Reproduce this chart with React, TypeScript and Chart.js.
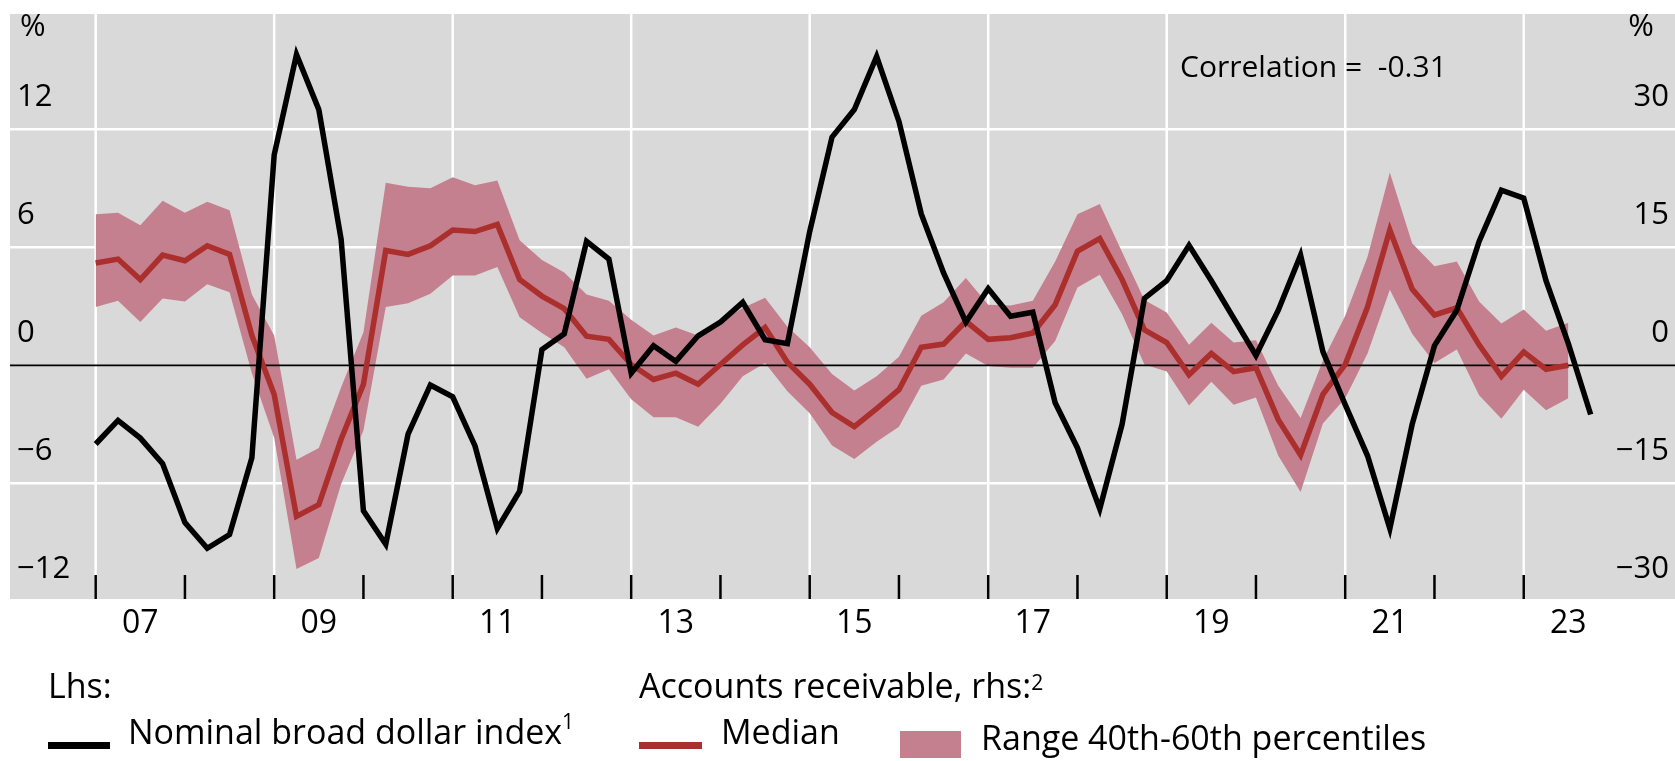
import { useEffect, useRef } from "react";
import { Chart, registerables } from "chart.js";

Chart.register(...registerables);

// Quarterly observations, 2007Q1 onwards
const quarters = [
  "2007Q1", "2007Q2", "2007Q3", "2007Q4", "2008Q1", "2008Q2", "2008Q3", "2008Q4",
  "2009Q1", "2009Q2", "2009Q3", "2009Q4", "2010Q1", "2010Q2", "2010Q3", "2010Q4",
  "2011Q1", "2011Q2", "2011Q3", "2011Q4", "2012Q1", "2012Q2", "2012Q3", "2012Q4",
  "2013Q1", "2013Q2", "2013Q3", "2013Q4", "2014Q1", "2014Q2", "2014Q3", "2014Q4",
  "2015Q1", "2015Q2", "2015Q3", "2015Q4", "2016Q1", "2016Q2", "2016Q3", "2016Q4",
  "2017Q1", "2017Q2", "2017Q3", "2017Q4", "2018Q1", "2018Q2", "2018Q3", "2018Q4",
  "2019Q1", "2019Q2", "2019Q3", "2019Q4", "2020Q1", "2020Q2", "2020Q3", "2020Q4",
  "2021Q1", "2021Q2", "2021Q3", "2021Q4", "2022Q1", "2022Q2", "2022Q3", "2022Q4",
  "2023Q1", "2023Q2", "2023Q3", "2023Q4",
];

// Nominal broad dollar index, year-on-year change, % (lhs)
const dollarIndex = [
  -4.0, -2.8, -3.7, -5.0, -8.0, -9.3, -8.6, -4.7,
  10.7, 15.8, 13.0, 6.4, -7.4, -9.1, -3.5, -1.0,
  -1.6, -4.1, -8.3, -6.4, 0.8, 1.6, 6.3, 5.4,
  -0.4, 1.0, 0.2, 1.5, 2.2, 3.2, 1.3, 1.1,
  6.8, 11.6, 13.0, 15.7, 12.4, 7.7, 4.7, 2.2,
  3.9, 2.5, 2.7, -1.9, -4.2, -7.3, -3.0, 3.4,
  4.3, 6.1, 4.3, 2.4, 0.5, 2.8, 5.6, 0.7,
  -2.0, -4.6, -8.3, -3.0, 1.0, 2.8, 6.3, 8.9,
  8.5, 4.3, 1.1, -2.5,
];

// Accounts receivable growth, % (rhs): median
const arMedian = [
  13.0, 13.5, 10.9, 14.0, 13.3, 15.2, 14.1, 3.8,
  -3.7, -19.2, -17.7, -9.4, -2.4, 14.6, 14.1, 15.2,
  17.2, 17.0, 17.9, 10.9, 8.8, 7.2, 3.7, 3.3,
  0.1, -1.8, -1.0, -2.4, 0.1, 2.6, 4.8, 0.4,
  -2.4, -6.0, -7.8, -5.5, -3.1, 2.3, 2.7, 5.6,
  3.3, 3.5, 4.1, 7.7, 14.5, 16.1, 10.9, 4.5,
  2.9, -1.2, 1.5, -0.8, -0.3, -6.9, -11.4, -3.7,
  0.1, 7.4, 17.2, 9.7, 6.4, 7.3, 2.6, -1.4,
  1.7, -0.5, 0.0,
];

// Accounts receivable growth, % (rhs): 60th percentile
const arP60 = [
  19.2, 19.4, 17.8, 20.9, 19.4, 20.8, 19.7, 9.0,
  3.8, -12.0, -10.5, -2.8, 4.2, 23.2, 22.7, 22.5,
  23.9, 22.9, 23.5, 15.9, 13.4, 11.8, 9.0, 8.2,
  5.8, 3.8, 4.8, 3.8, 5.5, 7.3, 8.6, 4.9,
  2.3, -1.1, -3.2, -1.4, 1.1, 6.3, 8.0, 11.1,
  7.7, 7.6, 8.2, 13.2, 19.2, 20.5, 14.4, 8.3,
  6.7, 2.6, 5.4, 2.9, 3.2, -2.6, -6.7, 0.6,
  6.3, 13.8, 24.5, 15.5, 12.6, 13.2, 8.1, 5.3,
  7.1, 4.4, 5.4,
];

// Accounts receivable growth, % (rhs): 40th percentile
const arP40 = [
  7.4, 8.2, 5.5, 8.5, 8.1, 10.3, 9.3, -1.0,
  -9.2, -25.9, -24.5, -15.1, -8.3, 7.4, 7.9, 9.1,
  11.4, 11.4, 12.5, 6.1, 4.1, 2.3, -1.7, -0.5,
  -4.3, -6.6, -6.6, -7.8, -4.9, -1.4, 0.3, -3.3,
  -6.1, -10.2, -11.9, -9.7, -7.8, -2.6, -1.8, 1.5,
  -0.1, -0.3, -0.3, 3.1, 9.9, 11.5, 6.5, 0.1,
  -0.8, -5.1, -2.1, -5.0, -4.1, -11.5, -16.1, -7.4,
  -4.2, 1.5, 9.6, 4.0, 0.3, 2.0, -3.8, -6.8,
  -3.1, -5.7, -4.2,
];

const leftTicks = [12, 6, 0, -6, -12];
const rightTicks = [30, 15, 0, -15, -30];
const tickYears = [
  2007, 2008, 2009, 2010, 2011, 2012, 2013, 2014, 2015,
  2016, 2017, 2018, 2019, 2020, 2021, 2022, 2023,
];
const gridYears = [2007, 2009, 2011, 2013, 2015, 2017, 2019, 2021, 2023];
const yearLabels = ["07", "09", "11", "13", "15", "17", "19", "21", "23"];
const correlationText = "Correlation =  -0.31";

const FONT = '"Open Sans", "Noto Sans", sans-serif';
const GREY = "#d9d9d9";
const RED = "#ab2f2c";
const PINK = "#c4808f";

const quarterToYear = (q: string) =>
  Number(q.slice(0, 4)) + (Number(q.slice(5)) - 1) / 4;

const fmt = (v: number) => (v < 0 ? "\u2212" + Math.abs(v) : String(v));

const decorPlugin = {
  id: "decor",
  beforeDatasetsDraw(chart: any) {
    const { ctx, chartArea: a, scales } = chart;
    const x = scales.x;
    const yl = scales.yL;
    ctx.save();
    ctx.fillStyle = GREY;
    ctx.fillRect(a.left, a.top, a.right - a.left, a.bottom - a.top);

    const seg = (x1: number, y1: number, x2: number, y2: number) => {
      ctx.beginPath();
      ctx.moveTo(x1, y1);
      ctx.lineTo(x2, y2);
      ctx.stroke();
    };

    // white grid
    ctx.strokeStyle = "#ffffff";
    ctx.lineWidth = 2.5;
    gridYears.forEach((g) => {
      const px = x.getPixelForValue(g);
      seg(px, a.top, px, a.bottom);
    });
    leftTicks.forEach((v) => {
      if (v === 0) return;
      const py = yl.getPixelForValue(v);
      if (py > a.top && py < a.bottom) seg(a.left, py, a.right, py);
    });

    // yearly tick marks along the bottom
    ctx.strokeStyle = "#000000";
    ctx.lineWidth = 2.5;
    tickYears.forEach((t) => {
      const px = x.getPixelForValue(t);
      seg(px, a.bottom - 24, px, a.bottom);
    });

    // axis labels inside the panel
    ctx.save();
    ctx.beginPath();
    ctx.rect(a.left, a.top, a.right - a.left, a.bottom - a.top);
    ctx.clip();
    ctx.fillStyle = "#000000";
    ctx.textBaseline = "alphabetic";
    ctx.font = `31px ${FONT}`;
    ctx.textAlign = "left";
    leftTicks.forEach((v) => {
      ctx.fillText(fmt(v), 17, yl.getPixelForValue(v) - 23);
    });
    ctx.fillText("%", 20, 36);
    ctx.textAlign = "right";
    rightTicks.forEach((v, i) => {
      ctx.fillText(fmt(v), 1669, yl.getPixelForValue(leftTicks[i]) - 23);
    });
    ctx.fillText("%", 1654, 36);
    ctx.textAlign = "left";
    ctx.font = `30px ${FONT}`;
    ctx.fillText(correlationText, 1180, 77);
    ctx.restore();

    // year labels
    ctx.fillStyle = "#000000";
    ctx.font = `32px ${FONT}`;
    ctx.textAlign = "center";
    gridYears.forEach((g, i) => {
      ctx.fillText(yearLabels[i], x.getPixelForValue(g + 0.5), 633);
    });

    // legend
    ctx.textAlign = "left";
    ctx.font = `34px ${FONT}`;
    ctx.fillText("Lhs:", 48, 698);
    const ar = "Accounts receivable, rhs:";
    ctx.fillText(ar, 639, 698);
    const arW = ctx.measureText(ar).width;
    const nb = "Nominal broad dollar index";
    ctx.fillText(nb, 128, 744);
    const nbW = ctx.measureText(nb).width;
    ctx.fillText("Median", 721, 744);
    ctx.fillText("Range 40th-60th percentiles", 981, 750);
    ctx.font = `21px ${FONT}`;
    ctx.fillText("2", 639 + arW, 690);
    ctx.fillText("1", 128 + nbW, 729);

    ctx.fillStyle = "#000000";
    ctx.fillRect(48, 742, 62, 7);
    ctx.fillStyle = RED;
    ctx.fillRect(639, 742, 63, 7);
    ctx.fillStyle = PINK;
    ctx.fillRect(900, 731, 61, 27);
    ctx.restore();
  },
  afterDatasetDraw(chart: any, args: any) {
    if (args.index !== 3) return;
    const { ctx, chartArea: a, scales } = chart;
    const py = scales.yL.getPixelForValue(0);
    ctx.save();
    ctx.strokeStyle = "#000000";
    ctx.lineWidth = 1.8;
    ctx.beginPath();
    ctx.moveTo(a.left, py);
    ctx.lineTo(a.right, py);
    ctx.stroke();
    ctx.restore();
  },
};

export default function App() {
  const ref = useRef<HTMLCanvasElement | null>(null);

  useEffect(() => {
    document.body.style.margin = "0";
    const canvas = ref.current;
    if (!canvas) return;
    const xs = quarters.map(quarterToYear);
    const pts = (vals: number[]) => vals.map((v, i) => ({ x: xs[i], y: v }));

    const chart = new Chart(canvas, {
      type: "line",
      data: {
        datasets: [
          {
            label: "Nominal broad dollar index",
            data: pts(dollarIndex),
            yAxisID: "yL",
            borderColor: "#000000",
            borderWidth: 5.5,
            pointRadius: 0,
            fill: false,
            order: 0,
          },
          {
            label: "Median",
            data: pts(arMedian),
            yAxisID: "yR",
            borderColor: RED,
            borderWidth: 5.5,
            pointRadius: 0,
            fill: false,
            order: 1,
          },
          {
            label: "60th percentile",
            data: pts(arP60),
            yAxisID: "yR",
            borderWidth: 0,
            borderColor: "rgba(0,0,0,0)",
            backgroundColor: PINK,
            pointRadius: 0,
            fill: "+1",
            order: 3,
          },
          {
            label: "40th percentile",
            data: pts(arP40),
            yAxisID: "yR",
            borderWidth: 0,
            borderColor: "rgba(0,0,0,0)",
            pointRadius: 0,
            fill: false,
            order: 2,
          },
        ],
      },
      options: {
        animation: false,
        responsive: false,
        devicePixelRatio: 1,
        layout: { padding: { left: 10, top: 14, right: 0, bottom: 162 } },
        elements: { line: { tension: 0 } },
        plugins: {
          legend: { display: false },
          tooltip: { enabled: false },
        },
        scales: {
          x: { type: "linear", min: 2006.04, max: 2024.695, display: false },
          yL: { type: "linear", position: "left", min: -11.88, max: 17.86, display: false },
          yR: { type: "linear", position: "right", min: -29.7, max: 44.65, display: false },
        },
      },
      plugins: [decorPlugin],
    });
    return () => chart.destroy();
  }, []);

  return (
    <div style={{ position: "absolute", left: 0, top: 0, width: 1675, height: 761, background: "#ffffff" }}>
      <canvas ref={ref} width={1675} height={761} style={{ display: "block" }} />
    </div>
  );
}
